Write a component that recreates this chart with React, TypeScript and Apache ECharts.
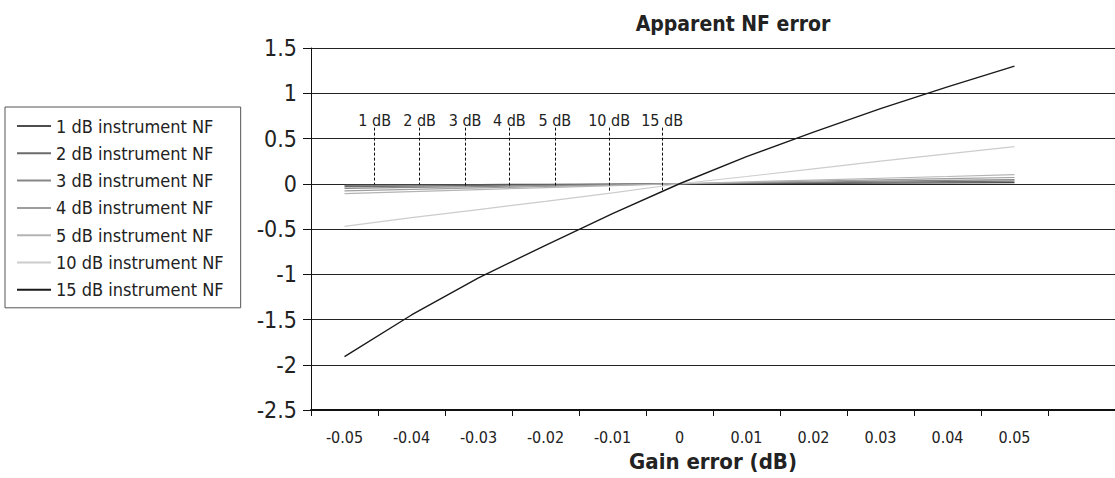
import React, { useEffect, useRef } from "react";
import * as echarts from "echarts";

const gainError = ["-0.05", "-0.04", "-0.03", "-0.02", "-0.01", "0", "0.01", "0.02", "0.03", "0.04", "0.05"];
const axisCategories = [...gainError, ""];

const seriesNames = [
  "1 dB instrument NF",
  "2 dB instrument NF",
  "3 dB instrument NF",
  "4 dB instrument NF",
  "5 dB instrument NF",
  "10 dB instrument NF",
  "15 dB instrument NF",
];

const nf1 = [-0.015, -0.012, -0.009, -0.006, -0.003, 0, 0.003, 0.005, 0.008, 0.01, 0.012];
const nf2 = [-0.032, -0.026, -0.019, -0.013, -0.006, 0, 0.006, 0.012, 0.017, 0.023, 0.028];
const nf3 = [-0.052, -0.041, -0.031, -0.02, -0.01, 0, 0.01, 0.019, 0.028, 0.037, 0.046];
const nf4 = [-0.078, -0.062, -0.046, -0.03, -0.015, 0, 0.014, 0.028, 0.042, 0.056, 0.069];
const nf5 = [-0.11, -0.087, -0.065, -0.043, -0.021, 0, 0.021, 0.041, 0.061, 0.08, 0.1];
const nf10 = [-0.47, -0.375, -0.285, -0.195, -0.1, 0.0, 0.08, 0.165, 0.25, 0.33, 0.41];
const nf15 = [-1.91, -1.45, -1.04, -0.68, -0.33, 0.0, 0.3, 0.57, 0.83, 1.07, 1.3];

const seriesValues = [nf1, nf2, nf3, nf4, nf5, nf10, nf15];
const seriesColors = ["#4d4d4d", "#6b6b6b", "#878787", "#9e9e9e", "#b4b4b4", "#cccccc", "#1a1a1a"];

const annotationLabels = ["1 dB", "2 dB", "3 dB", "4 dB", "5 dB", "10 dB", "15 dB"];
const annotationX = [-0.0455, -0.0388, -0.032, -0.0254, -0.0186, -0.0105, -0.0026];
const annotationEnd = [-0.01, -0.01, -0.035, -0.045, -0.035, -0.083, -0.07];
const annotationTop = 0.62;

const yTicks = { min: -2.5, max: 1.5, interval: 0.5 };

const FONT = "'Liberation Sans Narrow', 'DejaVu Sans Condensed', 'Arial Narrow', sans-serif";

export default function App() {
  const ref = useRef<HTMLDivElement>(null);

  useEffect(() => {
    document.body.style.margin = "0";
    if (!ref.current) return;
    const chart = echarts.init(ref.current, null, { renderer: "svg" });

    const series = seriesNames.map((name, i) => ({
      name,
      type: "line",
      xAxisIndex: 1,
      yAxisIndex: 0,
      symbol: "none",
      silent: true,
      z: i === 6 ? 5 : 3,
      lineStyle: { color: seriesColors[i], width: i === 6 ? 1.4 : 1.2 },
      itemStyle: { color: seriesColors[i] },
      data: gainError.map((g, k) => [parseFloat(g), seriesValues[i][k]]),
      markLine: {
        silent: true,
        symbol: ["none", "none"],
        lineStyle: { color: "#111", type: [3, 2], width: 1 },
        label: {
          show: true,
          position: "start",
          distance: -1,
          formatter: annotationLabels[i],
          color: "#222",
          fontSize: 16,
          fontFamily: FONT,
        },
        emphasis: { disabled: true },
        data: [
          [
            { coord: [annotationX[i], annotationTop] },
            { coord: [annotationX[i], annotationEnd[i]] },
          ],
        ],
      },
    }));

    chart.setOption({
      animation: false,
      title: {
        text: "Apparent NF error",
        left: 728,
        top: 8,
        textAlign: "center",
        textStyle: { fontFamily: FONT, fontSize: 21, fontWeight: "bold", color: "#222" },
      },
      legend: {
        orient: "vertical",
        left: 5,
        top: 107,
        icon: "rect",
        itemWidth: 34,
        itemHeight: 2,
        itemGap: 7.3,
        padding: [9, 17, 8, 12],
        borderColor: "#555",
        borderWidth: 1,
        selectedMode: false,
        data: seriesNames,
        textStyle: { fontFamily: FONT, fontSize: 18, color: "#222", lineHeight: 20 },
      },
      grid: { left: 311, top: 48, width: 810, height: 362, containLabel: false },
      xAxis: [
        {
          type: "category",
          data: axisCategories,
          boundaryGap: true,
          position: "bottom",
          axisLine: { show: true, onZero: false, lineStyle: { color: "#111", width: 2 } },
          axisTick: { show: true, interval: 0, length: 6, lineStyle: { color: "#111", width: 1 } },
          axisLabel: { interval: 0, fontFamily: FONT, fontSize: 16, color: "#222", margin: 19 },
          splitLine: { show: false },
          name: "Gain error (dB)",
          nameLocation: "middle",
          nameGap: 40,
          nameTextStyle: { fontFamily: FONT, fontSize: 22, fontWeight: "bold", color: "#222" },
        },
        {
          type: "value",
          min: -0.055,
          max: 0.065,
          show: false,
          axisLine: { show: false, onZero: false },
          splitLine: { show: false },
        },
      ],
      yAxis: {
        type: "value",
        min: yTicks.min,
        max: yTicks.max,
        interval: yTicks.interval,
        axisLine: { show: true, onZero: false, lineStyle: { color: "#111", width: 1 } },
        axisTick: { show: true, length: 8, lineStyle: { color: "#111", width: 1 } },
        axisLabel: { fontFamily: FONT, fontSize: 23, color: "#222", margin: 14 },
        splitLine: { show: true, lineStyle: { color: "#222", width: 1 } },
      },
      series,
    });

    return () => chart.dispose();
  }, []);

  return <div ref={ref} style={{ width: 1115, height: 478 }} />;
}
